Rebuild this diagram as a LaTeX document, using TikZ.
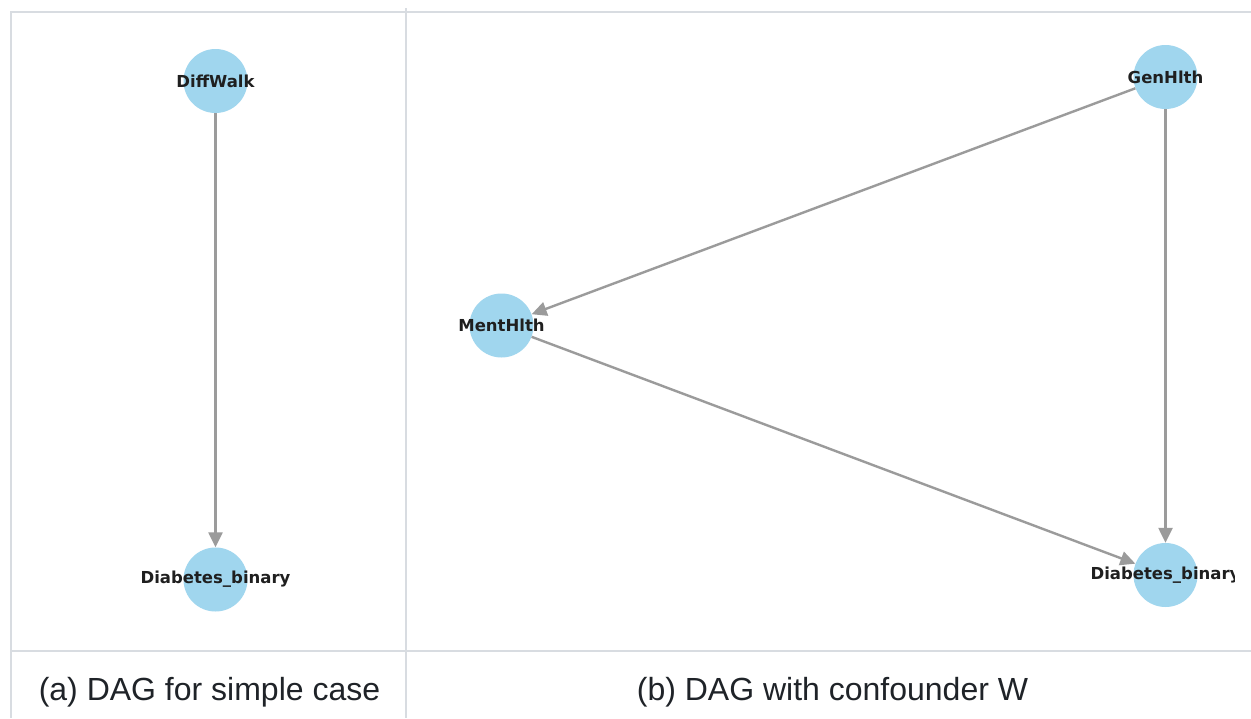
\documentclass[tikz,border=0pt]{standalone}
\usepackage{fontspec}
\setmainfont{Liberation Sans}
\newfontfamily\nodefont{DejaVu Sans}
\usetikzlibrary{arrows.meta}

\definecolor{gridline}{RGB}{216,220,225}
\definecolor{nodefill}{RGB}{160,214,238}
\definecolor{edgegray}{RGB}{155,155,155}
\definecolor{captext}{RGB}{31,35,40}

\tikzset{
  rule/.style={draw=gridline, line width=2pt},
  var/.style={circle, fill=nodefill, minimum size=64pt, inner sep=0pt},
  varlabel/.style={font=\nodefont\bfseries\fontsize{16.5}{19}\selectfont, text=black!88, inner sep=0pt},
  edge/.style={draw=edgegray, line width=2.4pt, -{Triangle[length=15pt,width=14pt]}},
  caption/.style={font=\fontsize{32}{37}\selectfont, text=captext, anchor=base, inner sep=0pt}
}

\begin{document}
\begin{tikzpicture}[x=1pt, y=-1pt]
  \useasboundingbox[fill=white] (0,0) rectangle (1251,718);

  % table rules
  \coordinate (tl) at (10,12);
  \coordinate (tr) at (1251,12);
  \coordinate (ml) at (10,651);
  \coordinate (mr) at (1251,651);
  \coordinate (la) at (11,12);
  \coordinate (lb) at (11,718);
  \coordinate (ca) at (406,8);
  \coordinate (cb) at (406,718);
  \draw[rule] (tl) -- (tr);
  \draw[rule] (ml) -- (mr);
  \draw[rule] (la) -- (lb);
  \draw[rule] (ca) -- (cb);

  % (a) simple case
  \node[var] (dw) at (215.5,81) {};
  \node[var] (dba) at (215.5,579.5) {};
  \draw[edge] (dw) -- (dba);
  \node[varlabel] at (dw) {DiffWalk};
  \node[varlabel] at (dba) {Diabetes\_binary};

  % (b) confounder
  \begin{scope}
    \clip (408,14) rectangle (1234,649);
    \node[var] (gh) at (1165.5,77) {};
    \node[var] (mh) at (501.5,325.5) {};
    \node[var] (dbb) at (1165.5,575) {};
    \draw[edge] (gh) -- (mh);
    \draw[edge] (mh) -- (dbb);
    \draw[edge] (gh) -- (dbb);
    \node[varlabel] at (gh) {GenHlth};
    \node[varlabel] at (mh) {MentHlth};
    \node[varlabel] at (dbb) {Diabetes\_binary};
  \end{scope}

  % captions
  \node[caption] (capa) at (209.5,700) {(a) DAG for simple case};
  \node[caption] (capb) at (832.5,700) {(b) DAG with confounder W};
\end{tikzpicture}
\end{document}
